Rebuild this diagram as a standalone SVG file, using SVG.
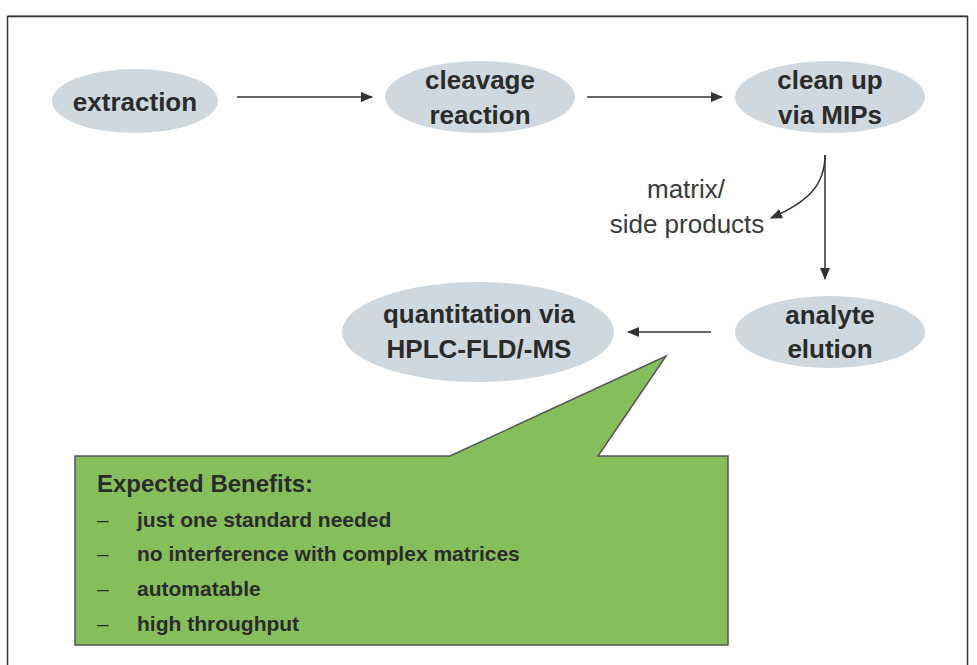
<svg xmlns="http://www.w3.org/2000/svg" width="977" height="665" viewBox="0 0 977 665">
<style>
.node ellipse{fill:#cfd8de;}
.nt{font-family:"Liberation Sans",Arial,sans-serif;font-weight:bold;font-size:26px;fill:#2b2b2b;text-anchor:middle;}
.lbl{font-family:"Liberation Sans",Arial,sans-serif;font-size:26px;fill:#3a3a3a;text-anchor:middle;}
.conn{stroke:#333;stroke-width:1.5;fill:none;marker-end:url(#ah);}
.bt{font-family:"Liberation Sans",Arial,sans-serif;font-weight:bold;font-size:21px;fill:#2b2b2b;}
.dash{font-family:"Liberation Sans",Arial,sans-serif;font-size:21px;fill:#2b2b2b;}
</style>
<defs>
<marker id="ah" viewBox="0 0 12 10" refX="11" refY="5" markerWidth="12" markerHeight="10" markerUnits="userSpaceOnUse" orient="auto">
<path d="M0,0 L12,5 L0,10 Z" fill="#333"/>
</marker>
</defs>
<rect x="0" y="0" width="977" height="665" fill="#fff"/>
<rect x="7.5" y="16.5" width="960" height="700" fill="none" stroke="#333" stroke-width="1.5"/>
<line x1="7.5" y1="15.5" x2="967.5" y2="15.5" stroke="#888" stroke-width="1"/>

<g id="extraction" class="node">
<ellipse cx="135" cy="101" rx="83" ry="32"/>
<text class="nt" x="135" y="111">extraction</text>
</g>
<g id="cleavage" class="node">
<ellipse cx="480" cy="97" rx="95" ry="36"/>
<text class="nt" x="480" y="89">cleavage</text>
<text class="nt" x="480" y="124">reaction</text>
</g>
<g id="cleanup" class="node">
<ellipse cx="830" cy="97" rx="95" ry="36"/>
<text class="nt" x="830" y="89">clean up</text>
<text class="nt" x="830" y="124">via MIPs</text>
</g>
<g id="analyte" class="node">
<ellipse cx="830" cy="332" rx="95" ry="36"/>
<text class="nt" x="830" y="324">analyte</text>
<text class="nt" x="830" y="358">elution</text>
</g>
<g id="quantitation" class="node">
<ellipse cx="478" cy="332" rx="136" ry="50"/>
<text class="nt" x="479" y="323">quantitation via</text>
<text class="nt" x="479" y="358">HPLC-FLD/-MS</text>
</g>

<g id="connectors">
<line class="conn" x1="237" y1="97" x2="372" y2="97"/>
<line class="conn" x1="587" y1="97" x2="722" y2="97"/>
<line class="conn" x1="825" y1="155" x2="825" y2="279"/>
<path class="conn" d="M825,155 C825,185 808,202 771,218"/>
<line class="conn" x1="711" y1="332" x2="628" y2="332"/>
</g>

<g id="side-products-label">
<text class="lbl" x="686" y="198">matrix/</text>
<text class="lbl" x="687" y="233">side products</text>
</g>

<g id="benefits">
<path d="M75,456 L450,456 L666,356 L598,456 L728,456 L728,645 L75,645 Z" fill="#85bf5c" stroke="#555" stroke-width="1.5"/>
<text class="bt" x="97" y="492" style="font-size:24px">Expected Benefits:</text>
<text class="dash" x="97" y="527">–</text>
<text class="bt" x="137" y="527">just one standard needed</text>
<text class="dash" x="97" y="561">–</text>
<text class="bt" x="137" y="561">no interference with complex matrices</text>
<text class="dash" x="97" y="596">–</text>
<text class="bt" x="137" y="596">automatable</text>
<text class="dash" x="97" y="631">–</text>
<text class="bt" x="137" y="631">high throughput</text>
</g>
</svg>
